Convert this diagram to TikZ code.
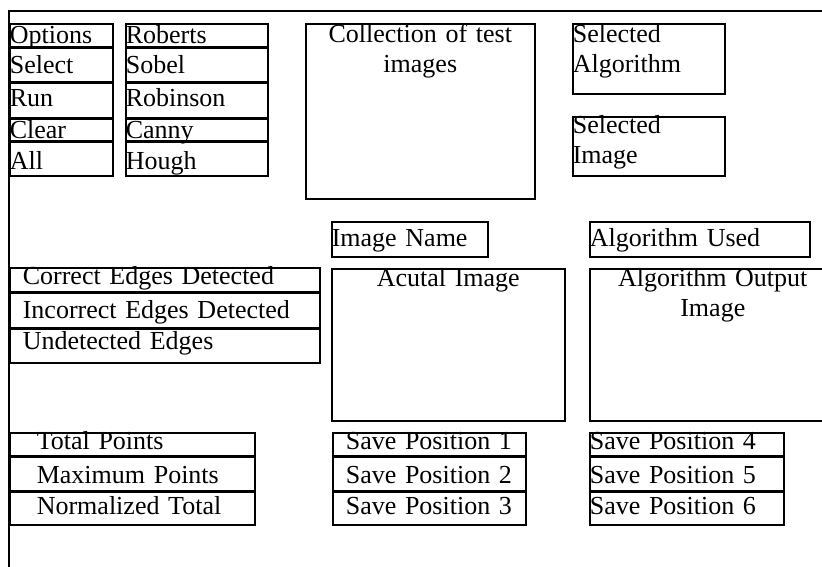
\documentclass[tikz,border=0pt]{standalone}
\usepackage{fontspec}
\setmainfont{Liberation Serif}
\usetikzlibrary{positioning}

\begin{document}
\begin{tikzpicture}[
    x=1pt, y=-1pt,
    line width=1.6pt,
    font=\fontsize{26}{30}\selectfont,
    cell/.style={draw=black, rectangle, inner sep=0pt, anchor=north west, align=left},
    bigbox/.style={draw=black, rectangle, inner sep=0pt, anchor=north west, align=center}]
    \useasboundingbox (0,0) rectangle (822,567);
    % FRAME
    \coordinate (frameBL) at (9,567);
    \coordinate (frameTL) at (9,11);
    \coordinate (frameTR) at (822,11);
    \draw (frameBL)--(frameTL)--(frameTR);

    % NODES
    % options column
    \node[cell, text width=103pt, text height=20pt, text depth=3pt] (opt) at (9,23) {Options};
    \node[cell, text width=103pt, text height=25.5pt, text depth=8pt, below=0pt of opt] (sel) {Select};
    \node[cell, text width=103pt, text height=23.5pt, text depth=11pt, below=0pt of sel] (run) {Run};
    \node[cell, text width=103pt, text height=18.5pt, text depth=3pt, below=0pt of run] (clr) {Clear};
    \node[cell, text width=103pt, text height=26.5pt, text depth=7pt, below=0pt of clr] (all) {All};
    % algorithm column
    \node[cell, text width=142pt, text height=20pt, text depth=3pt] (rob) at (125,23) {Roberts};
    \node[cell, text width=142pt, text height=25.5pt, text depth=8pt, below=0pt of rob] (sob) {Sobel};
    \node[cell, text width=142pt, text height=23.5pt, text depth=11pt, below=0pt of sob] (robin) {Robinson};
    \node[cell, text width=142pt, text height=18.5pt, text depth=3pt, below=0pt of robin] (can) {Canny};
    \node[cell, text width=142pt, text height=26.5pt, text depth=7pt, below=0pt of can] (hou) {Hough};
    % test images
    \node[bigbox, text width=229pt, text height=19pt, text depth=156pt] (coll) at (305,23) {Collection of test\\images};
    % selections
    \node[cell, text width=152pt, text height=19pt, text depth=51pt] (selalg) at (572,23) {Selected\\Algorithm};
    \node[cell, text width=152pt, text height=17pt, text depth=42pt] (selimg) at (572,116) {Selected\\Image};
    % image names
    \node[cell, text width=156pt, text height=25pt, text depth=10pt] (imgname) at (331,221) {Image Name};
    \node[cell, text width=220pt, text height=25pt, text depth=10pt] (algused) at (589,221) {Algorithm Used};
    % image views
    \node[bigbox, text width=233pt, text height=18pt, text depth=134pt] (actual) at (331,268) {Acutal Image};
    \node[bigbox, text width=246pt, text height=18pt, text depth=134pt] (output) at (589,268) {Algorithm Output\\Image};
    % edge counts
    \node[cell, inner xsep=13pt, text width=284pt, text height=17pt, text depth=7pt] (correct) at (9,267) {Correct Edges Detected};
    \node[cell, inner xsep=13pt, text width=284pt, text height=25.5pt, text depth=9pt, below=0pt of correct] (incorrect) {Incorrect Edges Detected};
    \node[cell, inner xsep=13pt, text width=284pt, text height=19.5pt, text depth=14pt, below=0pt of incorrect] (undet) {Undetected Edges};
    % points
    \node[cell, inner xsep=27pt, text width=191pt, text height=17pt, text depth=6pt] (total) at (9,432) {Total Points};
    \node[cell, inner xsep=27pt, text width=191pt, text height=25.6pt, text depth=7.8pt, below=0pt of total] (maxp) {Maximum Points};
    \node[cell, inner xsep=27pt, text width=191pt, text height=21.6pt, text depth=10.8pt, below=0pt of maxp] (norm) {Normalized Total};
    % save positions
    \node[cell, inner xsep=13pt, text width=167pt, text height=17pt, text depth=6pt] (save1) at (332,432) {Save Position 1};
    \node[cell, inner xsep=13pt, text width=167pt, text height=25.6pt, text depth=7.8pt, below=0pt of save1] (save2) {Save Position 2};
    \node[cell, inner xsep=13pt, text width=167pt, text height=21.6pt, text depth=10.8pt, below=0pt of save2] (save3) {Save Position 3};
    \node[cell, text width=194pt, text height=17pt, text depth=6pt] (save4) at (589,432) {Save Position 4};
    \node[cell, text width=194pt, text height=25.6pt, text depth=7.8pt, below=0pt of save4] (save5) {Save Position 5};
    \node[cell, text width=194pt, text height=21.6pt, text depth=10.8pt, below=0pt of save5] (save6) {Save Position 6};
\end{tikzpicture}
\end{document}
